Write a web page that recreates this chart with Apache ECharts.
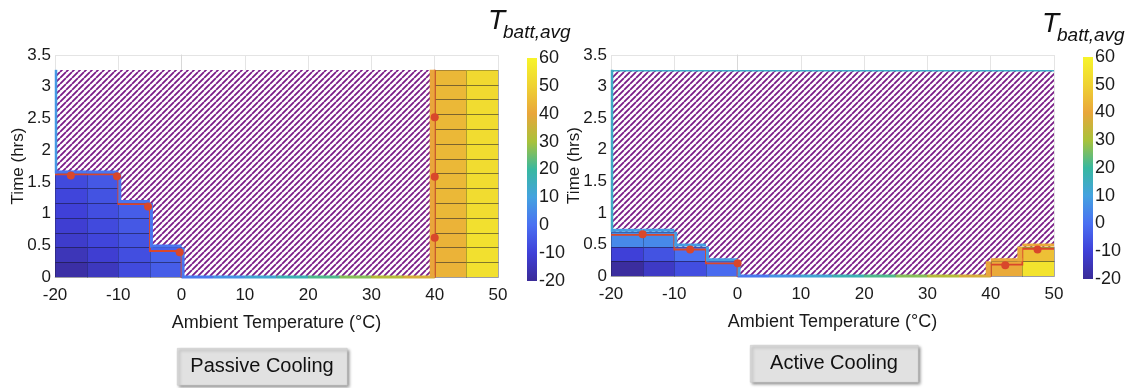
<!DOCTYPE html>
<html><head><meta charset="utf-8">
<script src="https://cdn.jsdelivr.net/npm/echarts@6/dist/echarts.min.js"></script>
<style>html,body{margin:0;padding:0;background:#fff}#c{width:1129px;height:388px}</style>
</head><body><div id="c"></div>
<script>
// ---------------- data ----------------
const xTicks = [-20, -10, 0, 10, 20, 30, 40, 50];
const yTicks = [0, 0.5, 1, 1.5, 2, 2.5, 3, 3.5];
const cbTicks = [-20, -10, 0, 10, 20, 30, 40, 50, 60];
const binStarts = [-20, -15, -10, -5, 0, 5, 10, 15, 20, 25, 30, 35, 40, 45];
const binWidth = 5;
const rowH = 0.2333;      // hrs per simulated time step
const simRows = 14;       // time steps simulated

// cell temperatures per ambient bin, bottom row first (Passive Cooling)
const passiveCells = [
  [-18, -15, -12, -11, -10, -9, -8],
  [-14, -11, -9, -8, -7, -6, -5],
  [-8, -7, -6, -5, -4],
  [-4, -3],
  [], [], [], [], [], [], [], [],
  [43, 43, 43, 43, 44, 44, 44, 44, 44, 44, 44, 44, 44, 44],
  [54, 54, 54, 54, 53, 53, 53, 53, 53, 53, 53, 53, 52, 52]
];
// Active Cooling
const activeCells = [
  [-19, -10, 5],
  [-13, -6, 5],
  [-7, 0],
  [-1],
  [], [], [], [], [], [], [], [],
  [41],
  [55, 46]
];
// temperature of the edge drawn on top of each bin
const passiveEdgeT = [1, 1, 1, 1, 2, 7, 12, 17, 22, 27, 32, 37, 40, 50];
const activeEdgeT  = [9, 9, 9, 9, 2, 7, 12, 17, 22, 27, 32, 37, 40, 41];
// limit time (hrs) per bin, null = beyond simulated time
const passiveLimit = [1.62, 1.62, 1.15, 0.41, 0, 0, 0, 0, 0, 0, 0, 0, null, null];
const activeLimit  = [0.65, 0.65, 0.42, 0.20, 0, 0, 0, 0, 0, 0, 0, 0, 0.18, 0.43];
// marker points [ambient, time]
const passiveDots = [[-17.5, 1.60], [-10.2, 1.59], [-5.3, 1.11], [-0.3, 0.39], [40, 0.62], [40, 1.58], [40, 2.52]];
const activeDots  = [[-15, 0.66], [-7.5, 0.42], [0, 0.20], [42.3, 0.17], [47.4, 0.42]];

// ---------------- style ----------------
const cmapVals = [-20, -10, 0, 10, 20, 30, 40, 50, 60];
const cmapCols = ['#3a2b98', '#3f40d8', '#4a70f2', '#44a2e0', '#38b8a0', '#a9c23a', '#e9a63b', '#efd232', '#f7f42a'];
const FONT = 'Liberation Sans, Arial, sans-serif';
const hatchColor = '#7a1d88';
const redColor = '#d9472b';

function hex(c){return [parseInt(c.slice(1,3),16),parseInt(c.slice(3,5),16),parseInt(c.slice(5,7),16)];}
function tColor(t){
  if (t <= cmapVals[0]) return cmapCols[0];
  for (let i=1;i<cmapVals.length;i++){
    if (t <= cmapVals[i]){
      const f=(t-cmapVals[i-1])/(cmapVals[i]-cmapVals[i-1]);
      const a=hex(cmapCols[i-1]), b=hex(cmapCols[i]);
      return 'rgb('+a.map((v,k)=>Math.round(v+(b[k]-v)*f)).join(',')+')';
    }
  }
  return cmapCols[cmapCols.length-1];
}
function makeHatch(){
  const s=6, c=document.createElement('canvas'); c.width=s; c.height=s;
  const g=c.getContext('2d'); g.fillStyle='#fff'; g.fillRect(0,0,s,s);
  g.strokeStyle=hatchColor; g.lineWidth=1.8; g.beginPath();
  for (const o of [-s,0,s]){ g.moveTo(o,s); g.lineTo(o+s,0); }
  g.stroke(); return c;
}
const hatchPattern = {image: makeHatch(), repeat: 'repeat'};
const simTop = simRows*rowH;
const xMin = binStarts[0], xMax = binStarts[binStarts.length-1]+binWidth;

const plots = [
  {cells: passiveCells, edgeT: passiveEdgeT, limit: passiveLimit, dots: passiveDots,
   hatchEdgeT: 8, topEdge: false,
   grid: {left: 55, top: 55, width: 443, height: 222},
   cb: {left: 527, top: 58, width: 10, height: 223},
   title: {x: 488, y: 7}, button: {x: 177, y: 348, w: 170, h: 37, text: 'Passive Cooling'}},
  {cells: activeCells, edgeT: activeEdgeT, limit: activeLimit, dots: activeDots,
   hatchEdgeT: 14, topEdge: true,
   grid: {left: 611, top: 55, width: 443, height: 221},
   cb: {left: 1083, top: 57, width: 10, height: 222},
   title: {x: 1042, y: 10}, button: {x: 750, y: 345, w: 168, h: 37, text: 'Active Cooling'}}
];

const grids=[], xAxes=[], yAxes=[], series=[], graphics=[];
const axisLabel = {fontFamily: FONT, fontSize: 17, color: '#1a1a1a'};
const R = Math.round;

plots.forEach((p, pi) => {
  const gi = grids.length;
  grids.push(p.grid);
  xAxes.push({type:'value', gridIndex: gi, min: xTicks[0], max: xTicks[xTicks.length-1], interval: 10,
    name: 'Ambient Temperature (°C)', nameLocation: 'middle', nameGap: 37, nameMoveOverlap: false,
    nameTextStyle: {fontFamily: FONT, fontSize: 18, color: '#1a1a1a'},
    axisLine: {show: true, lineStyle: {color: '#d8d8d8'}}, axisTick: {show: false},
    axisLabel: Object.assign({margin: 10}, axisLabel),
    splitLine: {show: true, lineStyle: {color: '#e4e4e4', width: 1}}});
  yAxes.push({type:'value', gridIndex: gi, min: yTicks[0], max: yTicks[yTicks.length-1], interval: 0.5,
    name: 'Time (hrs)', nameLocation: 'middle', nameGap: 28, nameRotate: 90, nameMoveOverlap: false,
    nameTextStyle: {fontFamily: FONT, fontSize: 17, color: '#1a1a1a'},
    axisLine: {show: true, lineStyle: {color: '#d8d8d8'}}, axisTick: {show: false},
    axisLabel: Object.assign({margin: 4}, axisLabel),
    splitLine: {show: true, lineStyle: {color: '#e4e4e4', width: 1}}});

  // hatch background (region beyond limit)
  series.push({type:'custom', xAxisIndex: gi, yAxisIndex: gi, z: 1, silent: true,
    data: [[xMin, 0]],
    renderItem: (params, api) => {
      const a = api.coord([xMin, simTop]), b = api.coord([xMax, 0]);
      return {type:'rect', shape:{x:R(a[0]), y:R(a[1]), width:R(b[0])-R(a[0]), height:R(b[1])-R(a[1])}, style:{fill: hatchPattern}};
    }});

  // cells
  const cellData = [];
  p.cells.forEach((col, ci) => col.forEach((t, r) => cellData.push([binStarts[ci], r, t])));
  series.push({type:'custom', xAxisIndex: gi, yAxisIndex: gi, z: 2, silent: true,
    data: cellData,
    renderItem: (params, api) => {
      const x0 = api.value(0), r = api.value(1), t = api.value(2);
      const a = api.coord([x0, (r+1)*rowH]), b = api.coord([x0+binWidth, r*rowH]);
      const x = R(a[0]), y = R(a[1]);
      return {type:'group', children: [
        {type:'rect', shape:{x, y, width:R(b[0])-x, height:R(b[1])-y}, style:{fill: tColor(t)}},
        {type:'rect', shape:{x: x+0.5, y: y+0.5, width:R(b[0])-x, height:R(b[1])-y},
          style:{fill: null, stroke: 'rgba(20,20,40,0.3)', lineWidth: 1}}
      ]};
    }});

  // red limit step line
  series.push({type:'custom', xAxisIndex: gi, yAxisIndex: gi, z: 3, silent: true,
    data: [[xMin, 0]],
    renderItem: (params, api) => {
      const paths = []; let cur = []; let prev = null;
      p.limit.forEach((L, i) => {
        const x0 = binStarts[i];
        if (L === null) {
          if (prev !== null) { cur.push([x0, prev]); cur.push([x0, simTop]); paths.push(cur); }
          cur = []; prev = null; return;
        }
        if (prev !== null && prev !== L) cur.push([x0, prev]);
        cur.push([x0, L]); cur.push([x0+binWidth, L]);
        prev = L;
      });
      if (cur.length) paths.push(cur);
      return {type:'group', children: paths.map(pts => ({type:'polyline',
        shape:{points: pts.map(q => api.coord(q))}, style:{stroke: redColor, lineWidth: 1.8, fill: null}}))};
    }});

  // edges of hatched region
  series.push({type:'custom', xAxisIndex: gi, yAxisIndex: gi, z: 4, silent: true,
    data: [[xMin, 0]],
    renderItem: (params, api) => {
      const kids = [];
      const heights = p.cells.map(c => c.length*rowH);
      const seg = (q1, q2, t, dx, dy, w) => {
        const a = api.coord(q1), b = api.coord(q2);
        kids.push({type:'line', shape:{x1:a[0]+dx, y1:a[1]+dy, x2:b[0]+dx, y2:b[1]+dy},
          style:{stroke: tColor(t), lineWidth: w}});
      };
      if (heights[0] < simTop) seg([xMin, heights[0]], [xMin, simTop], p.hatchEdgeT, 1, 0, 2.5);
      if (p.topEdge) seg([xMin, simTop], [xMax, simTop], p.hatchEdgeT, 0, 1, 1.6);
      heights.forEach((h, i) => {
        const x0 = binStarts[i];
        if (h < simTop) seg([x0, h], [x0+binWidth, h], p.edgeT[i], 0, h > 0 ? -1.5 : 0, 3);
        if (i > 0 && heights[i-1] !== h) {
          const leftTaller = heights[i-1] > h;
          const lo = Math.min(h, heights[i-1]), hi = Math.max(h, heights[i-1]);
          seg([x0, lo], [x0, hi], p.edgeT[leftTaller ? i-1 : i], leftTaller ? 1.5 : -2.5, 0, leftTaller ? 3 : 5);
        }
      });
      return {type:'group', children: kids};
    }});

  // dots
  series.push({type:'scatter', xAxisIndex: gi, yAxisIndex: gi, z: 5, silent: true,
    symbolSize: 8, itemStyle: {color: redColor, opacity: 1}, data: p.dots});

  // colorbar
  const ci = grids.length;
  grids.push(p.cb);
  xAxes.push({type:'value', gridIndex: ci, min: 0, max: 1, show: false});
  yAxes.push({type:'value', gridIndex: ci, min: cbTicks[0], max: cbTicks[cbTicks.length-1], interval: 10,
    position: 'right', axisLine:{show:false}, axisTick:{show:false}, splitLine:{show:false},
    axisLabel: {fontFamily: FONT, fontSize: 18, color: '#1a1a1a', margin: 2}});
  series.push({type:'custom', xAxisIndex: ci, yAxisIndex: ci, silent: true, data: [[0, 0]],
    renderItem: (params, api) => {
      const a = api.coord([0, cbTicks[cbTicks.length-1]]), b = api.coord([1, cbTicks[0]]);
      const lo = cmapVals[0], span = cmapVals[cmapVals.length-1]-lo;
      return {type:'rect', shape:{x:a[0], y:a[1], width:b[0]-a[0], height:b[1]-a[1]},
        style:{fill: new echarts.graphic.LinearGradient(0, 1, 0, 0,
          cmapVals.map((v, k) => ({offset: (v-lo)/span, color: cmapCols[k]})))}};
    }});

  // colorbar title
  graphics.push({type:'text', left: p.title.x, top: p.title.y,
    style:{text:'T', font: 'italic 28px ' + FONT, fill:'#111'}});
  graphics.push({type:'text', left: p.title.x + 15, top: p.title.y + 16,
    style:{text:'batt,avg', font: 'italic 19px ' + FONT, fill:'#111'}});

  // button
  const bt = p.button;
  graphics.push({type:'rect', left: bt.x, top: bt.y, shape:{width: bt.w, height: bt.h},
    style:{fill:'#e1e1e1', stroke:'#c8c8c8', lineWidth: 0.5, shadowBlur: 3, shadowOffsetX: 2, shadowOffsetY: 2, shadowColor:'rgba(0,0,0,0.55)'}});
  graphics.push({type:'text', x: bt.x + bt.w/2, y: bt.y + bt.h/2,
    style:{text: bt.text, font: '20px ' + FONT, fill:'#111', textAlign:'center', textVerticalAlign:'middle'}});
});

const chart = echarts.init(document.getElementById('c'), null, {renderer:'canvas'});
chart.setOption({animation:false, backgroundColor:'#fff', grid: grids, xAxis: xAxes, yAxis: yAxes, series, graphic: graphics});
</script></body></html>
